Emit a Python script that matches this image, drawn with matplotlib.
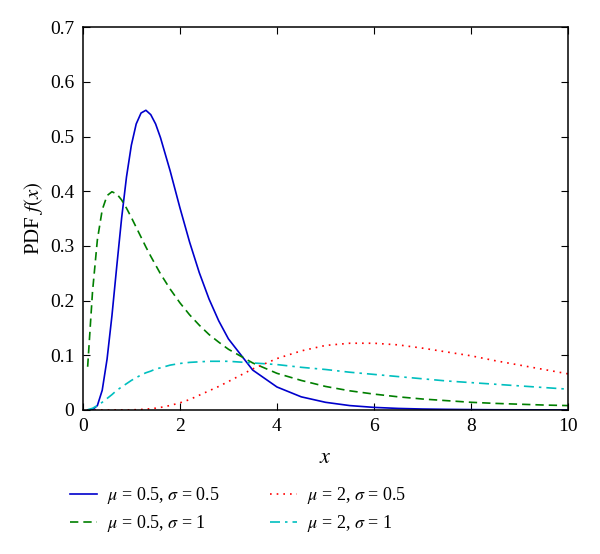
import numpy as np
import matplotlib
matplotlib.use("Agg")
import matplotlib.pyplot as plt

plt.rcParams['font.family'] = ['Liberation Serif', 'DejaVu Serif']
plt.rcParams['mathtext.fontset'] = 'stix'
plt.rcParams['font.size'] = 13

# x positions where the curves were read
x = [0.1, 0.2, 0.3, 0.4, 0.5, 0.6, 0.7, 0.8, 0.9, 1.0, 1.1, 1.2, 1.3, 1.4, 1.5, 1.6,
     1.8, 2.0, 2.2, 2.4, 2.6, 2.8, 3.0, 3.5, 4.0, 4.5, 5.0, 5.5, 6.0, 6.5, 7.0,
     7.5, 8.0, 8.5, 9.0, 9.5, 10.0]

# mu = 0.5, sigma = 0.5
pdf_a = [0.0, 0.0005, 0.008, 0.036, 0.093, 0.172, 0.263, 0.351, 0.426, 0.484, 0.523,
         0.543, 0.548, 0.540, 0.523, 0.498, 0.437, 0.370, 0.307, 0.251, 0.203, 0.163,
         0.130, 0.073, 0.042, 0.024, 0.014, 0.008, 0.0047, 0.0028, 0.0017, 0.0011,
         0.0007, 0.0004, 0.0003, 0.0002, 0.0001]
# mu = 0.5, sigma = 1
pdf_b = [0.079, 0.216, 0.311, 0.366, 0.392, 0.399, 0.395, 0.384, 0.369, 0.352, 0.334,
         0.316, 0.298, 0.281, 0.265, 0.249, 0.221, 0.196, 0.174, 0.155, 0.138, 0.124,
         0.111, 0.086, 0.067, 0.054, 0.043, 0.035, 0.029, 0.024, 0.020, 0.017, 0.014,
         0.012, 0.0105, 0.009, 0.008]
# mu = 2, sigma = 0.5
pdf_c = [0.0, 0.0, 0.0, 0.0, 0.0, 0.0, 0.0, 0.0, 0.0001, 0.0003, 0.0005, 0.0009,
         0.0015, 0.0023, 0.0033, 0.0046, 0.0082, 0.013, 0.019, 0.027, 0.035, 0.043,
         0.052, 0.075, 0.094, 0.108, 0.118, 0.122, 0.122, 0.119, 0.113, 0.106, 0.099,
         0.090, 0.082, 0.074, 0.066]
# mu = 2, sigma = 1
pdf_d = [0.0004, 0.003, 0.008, 0.014, 0.021, 0.028, 0.036, 0.042, 0.048, 0.054, 0.059,
         0.064, 0.068, 0.071, 0.075, 0.077, 0.082, 0.085, 0.087, 0.088, 0.089, 0.089,
         0.089, 0.086, 0.083, 0.078, 0.074, 0.069, 0.065, 0.061, 0.057, 0.053, 0.050,
         0.047, 0.044, 0.041, 0.038]

labels = [r'$\mu$ = 0.5, $\sigma$ = 0.5', r'$\mu$ = 0.5, $\sigma$ = 1',
          r'$\mu$ = 2, $\sigma$ = 0.5', r'$\mu$ = 2, $\sigma$ = 1']

fig = plt.figure(figsize=(6, 5.54), dpi=100)
ax = fig.add_axes([0.138, 0.260, 0.809, 0.691])

l1, = ax.plot(x, pdf_a, color='#0000cc', lw=1.2, ls='-')
l2, = ax.plot(x, pdf_b, color='#007f00', lw=1.2, ls=(0, (5, 3)))
l3, = ax.plot(x, pdf_c, color='#ff0000', lw=1.2, ls=(0, (1, 3)))
l4, = ax.plot(x, pdf_d, color='#00bfbf', lw=1.2, ls=(0, (6, 3, 1.5, 3)))

ax.set_xlim(0, 10)
ax.set_ylim(0, 0.7)
ax.set_xticks([0, 2, 4, 6, 8, 10])
ax.set_yticks([0, 0.1, 0.2, 0.3, 0.4, 0.5, 0.6, 0.7])
ax.set_yticklabels(['0', '0.1', '0.2', '0.3', '0.4', '0.5', '0.6', '0.7'])
ax.tick_params(direction='in', top=True, right=True, length=5, labelsize=14, pad=6)
for s in ax.spines.values():
    s.set_linewidth(1.1)
ax.set_xlabel(r'$x$', fontsize=16, labelpad=10)
ax.set_ylabel(r'PDF $f(x)$', fontsize=15, labelpad=4)

# legend order in two columns: blue/green left, red/cyan right
fig.legend([l1, l2, l3, l4], labels, ncol=2, frameon=False, loc='center',
           bbox_to_anchor=(0.397, 0.080), handlelength=1.5, handletextpad=0.55,
           columnspacing=2.8, labelspacing=0.4, fontsize=13)

plt.savefig('out.png', dpi=100)
